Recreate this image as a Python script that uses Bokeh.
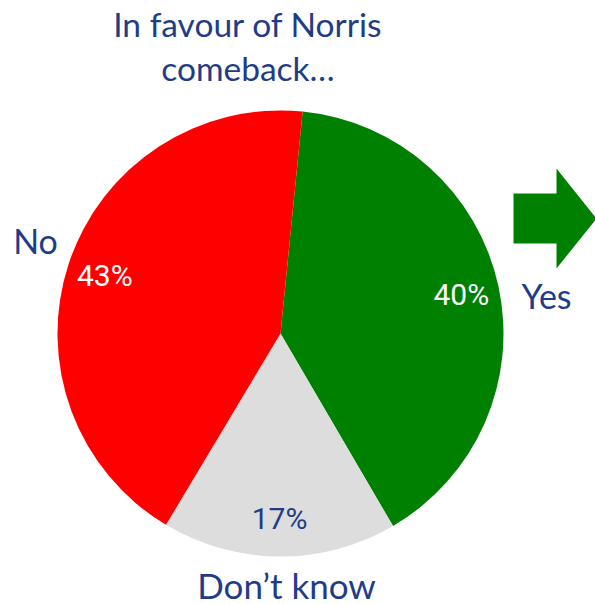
import math
from bokeh.plotting import figure
from bokeh.models import Range1d, ColumnDataSource
from bokeh.core.properties import value
from bokeh.embed import file_html
from bokeh.resources import INLINE

# ---- data ----
categories = ["Yes", "Don\u2019t know", "No"]
percents = [40, 17, 43]
colors = ["#008000", "#DDDDDD", "#FF0000"]
pct_colors = ["#FFFFFF", "#1F3C88", "#FFFFFF"]
title_lines = ["In favour of Norris", "comeback\u2026"]

# ---- layout (picture px coords; data y = TOP - picture_y) ----
W, H = 595, 604
TOP = 604
cx, cy_s, R = 280, 333, 223
cy = TOP - cy_s
start_offset = 5.7  # degrees clockwise from 12 o'clock
pct_r = 0.83
# outer category label positions (picture px: centre x, middle y)
cat_pos = [(546, 294.5), (286, 584), (35, 239.5)]
cat_sizes = ["34px", "35px", "34px"]
title_pos = [(247.5, 23), (247.5, 67)]
TEXT = "#1F3C88"

p = figure(width=W, height=H, output_backend="svg", toolbar_location=None,
           x_range=Range1d(0, W), y_range=Range1d(TOP - H, TOP),
           min_border=0, outline_line_color=None)
p.axis.visible = False
p.grid.visible = False
p.background_fill_color = "white"

starts, ends, px, py = [], [], [], []
cum = start_offset
for v in percents:
    a0 = 90 - cum
    a1 = 90 - (cum + v * 3.6)
    starts.append(math.radians(a0))
    ends.append(math.radians(a1))
    mid = math.radians((a0 + a1) / 2)
    px.append(cx + pct_r * R * math.cos(mid))
    py.append(cy + pct_r * R * math.sin(mid))
    cum += v * 3.6

src = ColumnDataSource(dict(start=starts, end=ends, color=colors,
                            x=px, y=py, lab=[f"{v}%" for v in percents],
                            tcol=pct_colors))
p.wedge(x=cx, y=cy, radius=R, start_angle="start", end_angle="end",
        direction="clock", fill_color="color", line_color=None, source=src)

p.text(x="x", y="y", text="lab", text_color="tcol", source=src,
       text_font=value("Roboto"), text_font_size="30px",
       text_align="center", text_baseline="middle")

# category labels
cat_src = ColumnDataSource(dict(x=[c[0] for c in cat_pos], y=[TOP - c[1] for c in cat_pos],
                                t=categories, s=cat_sizes))
p.text(x="x", y="y", text="t", text_font_size="s", source=cat_src,
       text_color=TEXT, text_font=value("Lato"),
       text_align="center", text_baseline="middle")

# title
p.text(x=[t[0] for t in title_pos], y=[TOP - t[1] for t in title_pos], text=title_lines,
       text_color=TEXT, text_font=value("Lato"), text_font_size="33.5px",
       text_align="center", text_baseline="middle")

# arrow decoration
ax = [513, 556, 556, 596, 556, 556, 513]
ay = [193, 193, 168, 218, 268, 243, 243]
p.patch(x=ax, y=[TOP - v for v in ay], fill_color="#008000", line_color=None)

open("out.html", "w").write(file_html(p, INLINE))
